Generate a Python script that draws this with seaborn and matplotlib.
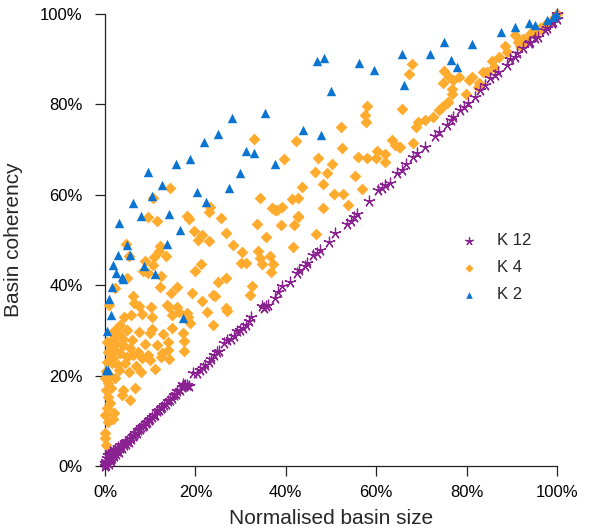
import pandas as pd
import matplotlib
matplotlib.use("Agg")
import matplotlib.pyplot as plt
import seaborn as sns
from matplotlib.ticker import PercentFormatter

# K 12 (purple asterisks), values in percent
k12_x = [0, 0.1, 0.2, 0.3, 0.4, 0.5, 0.6, 0.8, 0.9, 1.0, 1.1, 1.3, 1.4, 1.6, 1.8, 1.9, 2.1, 2.3, 2.5, 2.7,
         2.9, 3.1, 3.3, 3.6, 3.8, 4.1, 4.4, 4.6, 4.9, 5.2, 5.5, 5.8, 6.1, 6.4, 6.7, 7.0, 7.4, 7.7, 8.0, 8.3,
         8.7, 9.0, 9.3, 9.7, 10.0, 10.4, 10.8, 11.1, 11.5, 11.9, 12.3, 12.7, 13.1, 13.5, 13.9, 14.3, 14.8, 15.2, 15.6, 16.0,
         16.6, 17.0, 17.4, 17.7, 18.1, 18.6, 17.2, 19.5, 20.3, 21.0, 21.6, 22.2, 22.9, 23.4, 24.1, 24.7, 25.3, 26.3, 26.9, 27.8,
         28.6, 29.3, 29.9, 30.5, 31.3, 31.9, 32.3, 34.8, 35.2, 35.6, 36.0, 37.5, 38.3, 39.2, 40.9, 42.5, 43.0, 44.2, 44.8, 46.1,
         46.8, 47.6, 49.6, 50.9, 53.5, 54.4, 55.0, 55.7, 58.4, 60.5, 61.2, 61.9, 63.1, 64.5, 65.6, 66.5, 68.2, 69.0, 70.8, 73.0,
         74.0, 75.6, 76.5, 77.1, 78.5, 79.5, 80.4, 81.9, 83.0, 84.1, 85.2, 86.2, 87.0, 88.9, 89.6, 90.7, 91.1, 92.5, 93.7, 94.0,
         95.1, 95.9, 97.3, 97.7, 98.8, 99.2, 99.9, 100]
k12_y = [0, 0.6, 1.2, 0.3, 1.8, 0.9, 2.4, 1.5, 0.4, 2.1, 3.0, 1.0, 2.6, 1.8, 3.3, 2.2, 2.9, 3.8, 2.6, 3.4,
         4.1, 3.2, 4.0, 4.6, 3.9, 4.6, 5.2, 4.8, 5.6, 5.4, 6.1, 6.0, 6.7, 6.8, 7.3, 7.4, 8.0, 8.1, 8.6, 8.8,
         9.0, 9.6, 9.8, 10.2, 10.5, 10.9, 11.3, 11.3, 12.1, 12.3, 12.8, 13.0, 13.6, 13.8, 14.4, 14.6, 15.0, 15.6, 15.9, 16.5,
         16.8, 17.4, 17.8, 17.9, 18.0, 17.6, 18.2, 20.5, 20.5, 21.2, 21.7, 22.4, 23.1, 23.6, 24.6, 25.3, 25.5, 27.2, 27.9, 28.2,
         28.7, 29.8, 30.1, 30.6, 31.2, 32.0, 33.0, 35.3, 35.0, 35.4, 35.6, 37.1, 38.6, 39.8, 40.8, 42.8, 43.3, 44.2, 45.0, 46.7,
         47.1, 47.8, 49.5, 51.6, 53.5, 54.3, 55.0, 55.8, 58.6, 61.1, 61.4, 62.2, 62.7, 64.8, 65.5, 66.8, 68.4, 69.2, 70.6, 72.9,
         74.0, 75.4, 76.6, 77.3, 78.8, 79.5, 80.2, 81.7, 83.2, 84.3, 85.8, 86.4, 87.2, 88.7, 90.0, 90.5, 91.3, 92.5, 93.5, 93.9,
         94.6, 95.0, 96.5, 96.8, 97.9, 98.3, 99.0, 100]

# K 4 (orange diamonds)
k4_x = [14.4, 10.7, 9.6, 11.4, 18.1, 18.5, 23.2, 23.0, 25.6, 19.7, 21.5, 20.6, 22.9, 26.7, 28.3, 30.2, 30.0, 31.2, 4.6, 5.4,
        12.2, 12.0, 13.4, 10.9, 8.9, 10.7, 8.5, 9.6, 12.4, 4.8, 21.2, 20.0, 25.1, 26.7, 12.2, 16.0, 2.2,
        33.0, 42.3, 39.7, 47.1, 50.2, 46.5, 49.1, 48.2, 43.6, 41.3, 42.6, 34.2, 36.9, 38.1, 39.2, 42.7, 48.2, 50.7, 52.7, 53.8,
        52.3, 52.4, 55.3, 56.9, 55.9, 58.0, 60.0, 60.2, 61.9, 61.9, 58.0, 57.5, 57.7, 63.6, 64.2, 65.0, 65.8,
        33.6, 38.9, 41.8, 42.8, 37.6, 35.6, 46.7, 41.5, 33.9, 34.2, 36.5, 34.7, 37.1, 36.7, 32.5, 32.0,
        68.0, 67.3, 75.1, 74.7, 76.2, 77.1, 78.4, 76.7, 76.7, 80.6, 81.3, 79.8, 82.8, 83.7, 84.6, 85.6, 86.1, 88.6, 89.0, 90.7,
        91.4, 91.8, 93.3, 94.0, 94.8, 96.2, 97.0, 98.1, 99.0, 74.5, 73.9, 75.6, 72.6, 70.8, 69.3, 68.8, 68.2, 65.3, 82.6, 75.9,
        92.5, 95.5, 97.5, 99.5, 100, 87.2,
        14.6, 19.2, 23.9, 24.3, 21.5, 13.7, 14.2, 16.0, 16.4, 14.8, 18.1, 26.8, 27.1, 22.6, 18.7, 14.9, 23.8, 17.3,
        6.3, 6.4, 7.5, 8.1, 10.1, 10.3, 18.3, 4.3, 3.3, 2.6, 3.3, 4.9, 7.6, 10.5, 10.0, 5.9, 2.0, 1.1, 3.9, 5.5,
        2.1, 0.7, 3.3, 4.8, 6.3, 7.4, 8.1, 9.6, 10.0, 11.6, 12.7, 14.0, 12.3, 14.2, 14.0, 17.5, 17.5, 11.1, 7.9, 5.4,
        2.9, 1.5, 0.4, 0.0, 0.7, 1.3, 0.2, 0.7, 1.1, 0.4, 3.9, 3.7, 5.5, 6.6, 0.0, 1.8, 0.7, 0.0, 0.0, 0.2,
        1.9, 0.9, 5.8, 1.5, 2.5, 4.0, 1.8, 0.3, 1.0, 2.2, 3.0, 0.5, 4.4, 6.8, 8.8, 12.8]
k4_y = [61.6, 59.4, 55.0, 54.2, 55.4, 54.7, 57.2, 56.1, 54.9, 52.0, 51.1, 50.0, 49.8, 51.6, 48.9, 47.3, 45.0, 45.0, 49.1, 46.5,
        48.7, 47.6, 46.5, 46.2, 45.4, 44.4, 43.2, 42.6, 42.0, 41.7, 44.8, 43.2, 40.6, 41.7, 39.7, 39.7, 39.3,
        72.3, 72.0, 68.0, 68.1, 66.9, 65.0, 64.8, 62.3, 61.7, 59.1, 59.3, 59.4, 57.0, 56.7, 57.3, 55.3, 57.0, 60.1, 60.1, 57.8,
        74.9, 70.3, 64.2, 61.2, 68.3, 68.1, 68.1, 69.8, 69.0, 67.2, 79.6, 77.6, 76.2, 72.1, 71.0, 70.6, 78.9,
        53.5, 53.4, 53.3, 55.1, 56.6, 50.6, 51.3, 48.5, 47.6, 46.1, 46.5, 44.6, 44.6, 42.9, 39.8, 37.8,
        88.9, 86.7, 87.4, 84.7, 86.1, 85.4, 86.1, 83.4, 82.4, 85.4, 86.0, 82.4, 84.7, 87.2, 87.2, 89.5, 88.3, 92.9, 91.7, 95.4,
        93.9, 92.9, 93.9, 95.5, 96.2, 96.8, 97.2, 97.9, 98.7, 79.5, 78.8, 80.2, 77.3, 76.5, 76.2, 75.1, 71.4, 70.6, 83.9, 80.6,
        94.5, 96.0, 97.8, 99.3, 100, 90.5,
        38.2, 38.3, 37.8, 37.6, 36.6, 35.6, 35.1, 35.2, 34.0, 33.4, 33.8, 35.0, 34.3, 34.1, 31.7, 30.5, 31.2, 29.4,
        37.7, 36.0, 35.4, 33.6, 35.2, 33.0, 33.0, 32.9, 31.2, 30.5, 29.0, 30.1, 29.7, 30.2, 29.5, 27.9, 28.3, 27.1, 26.8, 26.0,
        25.7, 25.3, 24.9, 24.2, 24.6, 25.3, 23.8, 24.6, 23.5, 26.8, 24.9, 25.7, 24.2, 23.7, 27.5, 27.6, 25.5, 21.5, 20.9, 20.9,
        22.3, 22.7, 23.1, 19.4, 18.3, 17.2, 16.8, 15.3, 13.9, 12.8, 16.8, 15.7, 14.6, 17.2, 11.3, 10.5, 9.8, 7.2, 6.1, 4.6,
        11.7, 35.6, 33.4, 29.5, 27.0, 28.0, 23.8, 21.0, 20.0, 19.5, 21.2, 27.5, 22.8, 22.2, 27.0, 29.2]

# K 2 (blue triangles)
k2_x = [28.2, 25.1, 22.0, 31.3, 33.0, 18.8, 15.7, 9.5, 29.8, 37.6, 35.3, 12.5, 27.4, 10.3, 20.4, 6.3, 22.3, 7.9, 14.2, 3.2,
        16.5, 4.8, 13.8, 2.8, 5.5, 1.7, 8.7, 2.4, 3.7, 4.0, 11.1, 1.5, 0.9, 1.3, 17.3, 0.5, 0.2, 0.7, 47.0, 48.5,
        56.3, 59.5, 50.1, 43.9, 47.8, 65.8, 66.2, 72.0, 75.1, 81.3, 76.6, 77.9, 87.5, 90.8, 93.8, 95.2, 97.7, 99.7, 99.1]
k2_y = [77.0, 73.5, 71.6, 69.8, 69.2, 67.9, 66.8, 65.1, 64.9, 66.9, 78.0, 62.1, 61.6, 59.8, 60.6, 58.2, 58.3, 55.3, 55.8, 53.8,
        52.2, 48.9, 49.2, 46.6, 46.6, 44.4, 44.2, 42.6, 41.9, 41.3, 42.5, 39.5, 36.9, 33.4, 32.8, 29.9, 21.2, 21.2, 89.7, 90.3,
        89.1, 87.5, 83.0, 74.3, 73.2, 91.2, 84.2, 91.2, 93.9, 93.3, 89.8, 88.2, 96.0, 97.1, 98.0, 97.5, 98.7, 99.9, 99.3]

sns.set_style("ticks")
plt.rcParams['font.family'] = ['Liberation Sans', 'DejaVu Sans']

fig = plt.figure(figsize=(5.9, 5.32), dpi=100)
ax = fig.add_axes([105 / 590, 1 - 466 / 532, 452 / 590, 452 / 532])

df12 = pd.DataFrame({'size': k12_x, 'coh': k12_y})
df4 = pd.DataFrame({'size': k4_x, 'coh': k4_y})
df2 = pd.DataFrame({'size': k2_x, 'coh': k2_y})

sns.scatterplot(data=df4, x='size', y='coh', ax=ax, marker='D', s=36, color='#ffab2e',
                linewidth=0, label='K 4', clip_on=False, zorder=3)
sns.scatterplot(data=df12, x='size', y='coh', ax=ax, marker=(5, 2, 0), s=60, color='#8b2291',
                linewidth=0.9, label='K 12', clip_on=False, zorder=4)
sns.scatterplot(data=df2, x='size', y='coh', ax=ax, marker='^', s=46, color='#0a74d0',
                linewidth=0, label='K 2', clip_on=False, zorder=5)

ax.set_xlim(0, 100)
ax.set_ylim(0, 100)
ticks = [0, 20, 40, 60, 80, 100]
ax.set_xticks(ticks)
ax.set_yticks(ticks)
ax.xaxis.set_major_formatter(PercentFormatter(xmax=100, decimals=0))
ax.yaxis.set_major_formatter(PercentFormatter(xmax=100, decimals=0))
ax.tick_params(axis='both', direction='out', length=7, width=0.9, color='#222222',
               labelsize=12, labelcolor='black')
ax.tick_params(axis='x', pad=7)
ax.tick_params(axis='y', pad=9)
for side in ['top', 'right']:
    ax.spines[side].set_visible(False)
for side in ['left', 'bottom']:
    ax.spines[side].set_linewidth(0.9)
    ax.spines[side].set_color('#222222')

ax.set_xlabel('Normalised basin size', fontsize=15, labelpad=6)
ax.set_ylabel('Basin coherency', fontsize=15, labelpad=12)

handles, labels = ax.get_legend_handles_labels()
order = [labels.index(l) for l in ['K 12', 'K 4', 'K 2']]
ax.legend([handles[i] for i in order], [labels[i] for i in order],
          loc='upper left', bbox_to_anchor=(0.735, 0.548), frameon=False,
          fontsize=12, labelspacing=0.72, handletextpad=0.7, markerscale=0.7)

fig.savefig('out.png', dpi=100)
